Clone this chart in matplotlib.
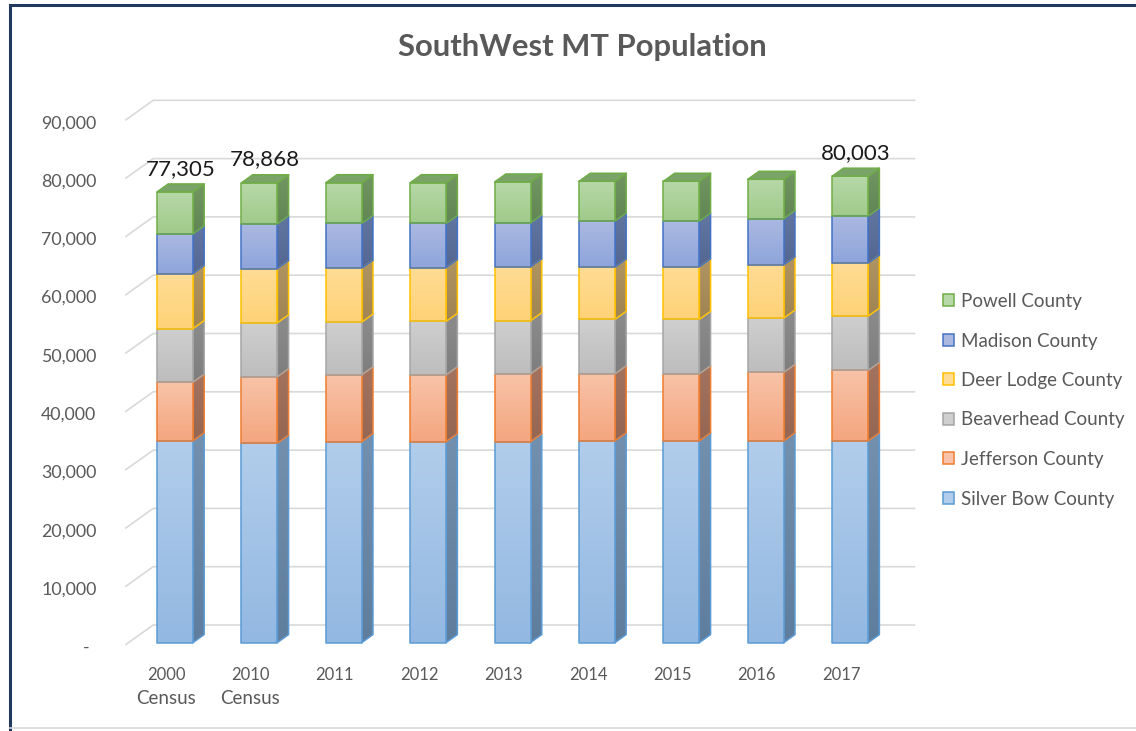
"""
SouthWest MT population - Excel style 3D stacked columns, drawn with an
oblique projection on a plain 2D axes.
"""
import numpy as np
import matplotlib
matplotlib.use("Agg")
import matplotlib.pyplot as plt
from matplotlib.patches import Polygon, Patch
from matplotlib.colors import LinearSegmentedColormap
from matplotlib.lines import Line2D

plt.rcParams["font.family"] = ["Lato", "DejaVu Sans"]

# ── Data ────────────────────────────────────────────────────────────────────────
YEARS   = ["2000", "2010", "2011", "2012", "2013", "2014", "2015", "2016", "2017"]
SUBLINE = ["Census", "Census", "", "", "", "", "", "", ""]

SILVER_BOW  = [34606, 34200, 34480, 34480, 34480, 34600, 34600, 34600, 34600]
JEFFERSON   = [10049, 11406, 11450, 11450, 11620, 11500, 11500, 11740, 12080]
BEAVERHEAD  = [9202, 9246, 9050, 9170, 9120, 9340, 9340, 9320, 9320]
DEER_LODGE  = [9417, 9298, 9220, 9220, 9220, 8950, 9000, 9120, 9060]
MADISON     = [6851, 7691, 7690, 7570, 7570, 7910, 7860, 7960, 8090]
POWELL      = [7180, 7027, 7000, 7000, 7000, 6830, 6830, 6730, 6853]

SERIES_NAMES = ["Silver Bow County", "Jefferson County", "Beaverhead County",
                "Deer Lodge County", "Madison County", "Powell County"]
SERIES = [SILVER_BOW, JEFFERSON, BEAVERHEAD, DEER_LODGE, MADISON, POWELL]
LABELED = [0, 1, 8]          # columns that carry a total label
Y_TICKS = list(range(0, 90001, 10000))

# ── Style ───────────────────────────────────────────────────────────────────────
EDGE     = ["#5B9BD5", "#ED7D31", "#A5A5A5", "#FFC000", "#4472C4", "#70AD47"]
FACE_TOP = ["#B1CDEB", "#F8C3A8", "#CFCFCF", "#FFDC95", "#ABB9E1", "#B7D8A8"]
FACE_BOT = ["#93B8E2", "#F4A67F", "#BDBDBD", "#FED277", "#8EA5DB", "#A0CA8A"]
SIDE_TOP = ["#7390AE", "#A3735F", "#8C8C8C", "#B09563", "#6276A2", "#729662"]
SIDE_BOT = ["#5F7D9C", "#956652", "#7E7E7E", "#A08553", "#536792", "#628653"]
TOP_FACE = ["#7C97B4", "#A87A66", "#939393", "#B39A6A", "#6A7DA8", "#7AA468"]
TEXT_CLR = "#595959"
GRID_CLR = "#D9D9D9"

W, H = 1136, 731
ORIGIN_X, ORIGIN_Y = 175.0, 642.6      # pixel of (column 0, value 0, depth 0)
CAT_PX, VAL_PX = 84.4, 0.00583         # pixels per column / per person
DXU = 28 / CAT_PX                      # depth vector in data units
DYU = 20 / VAL_PX
HALF, DEPTH = 0.213, 0.4
FLOOR_FRONT, BACK = -0.12, 0.88
WALL_L, WALL_R = -0.55, 8.48


def proj(x, v, d):
    return x + d * DXU, v + d * DYU


def grad_face(ax, verts, c_top, c_bot, edge, z):
    poly = Polygon(verts, closed=True, facecolor="none", edgecolor=edge,
                   lw=1.1, joinstyle="round", zorder=z + 0.1)
    ax.add_patch(poly)
    xs, ys = zip(*verts)
    cmap = LinearSegmentedColormap.from_list("g", [c_bot, c_top])
    im = ax.imshow(np.linspace(0, 1, 64)[:, None], cmap=cmap, origin="lower",
                   extent=(min(xs), max(xs), min(ys), max(ys)),
                   aspect="auto", interpolation="bilinear", zorder=z)
    im.set_clip_path(poly)


fig = plt.figure(figsize=(W / 100, H / 100), dpi=100, facecolor="white")
ax = fig.add_axes([0, 0, 1, 1])
ax.axis("off")

# walls: gridlines on the left wall and back wall
for v in Y_TICKS:
    pts = [proj(WALL_L, v, FLOOR_FRONT), proj(WALL_L, v, BACK), proj(WALL_R, v, BACK)]
    ax.plot(*zip(*pts), color=GRID_CLR, lw=1.2, zorder=1, solid_capstyle="butt")
    lx, ly = proj(-0.89, v, FLOOR_FRONT)
    ax.text(lx - (0.08 if v == 0 else 0), ly - 500, f"{v:,}" if v else "-",
            ha="right", va="center", fontsize=12.8, color=TEXT_CLR)

# columns
for i in range(len(YEARS)):
    base = 0
    z = 3 + i
    for s, vals in enumerate(SERIES):
        top = base + vals[i]
        front = [proj(i - HALF, base, 0), proj(i + HALF, base, 0),
                 proj(i + HALF, top, 0), proj(i - HALF, top, 0)]
        side = [proj(i + HALF, base, 0), proj(i + HALF, base, DEPTH),
                proj(i + HALF, top, DEPTH), proj(i + HALF, top, 0)]
        grad_face(ax, side, SIDE_TOP[s], SIDE_BOT[s], EDGE[s], z + s * 0.01)
        grad_face(ax, front, FACE_TOP[s], FACE_BOT[s], EDGE[s], z + s * 0.01 + 0.2)
        base = top
    s = len(SERIES) - 1
    cap = [proj(i - HALF, base, 0), proj(i + HALF, base, 0),
           proj(i + HALF, base, DEPTH), proj(i - HALF, base, DEPTH)]
    grad_face(ax, cap, TOP_FACE[s], TOP_FACE[s], EDGE[s], z + 0.5)

    if i in LABELED:
        lx = proj(i, base, DEPTH / 2)[0]
        ly = proj(i, base, DEPTH)[1]
        ax.annotate(f"{base:,}", xy=(lx, ly), xytext=(0, 11), textcoords="offset points",
                    ha="center", va="center", fontsize=16, color="#1a1a1a")

    # category labels
    ax.text(i - 0.107, -5615, YEARS[i], ha="center", va="center",
            fontsize=12, color=TEXT_CLR)
    if SUBLINE[i]:
        ax.text(i - 0.107, -9600, SUBLINE[i], ha="center", va="center",
                fontsize=13.5, color=TEXT_CLR)

ax.set_xlim(-ORIGIN_X / CAT_PX, (W - ORIGIN_X) / CAT_PX)
ax.set_ylim(-(H - ORIGIN_Y) / VAL_PX, ORIGIN_Y / VAL_PX)

fig.text(582 / W, 1 - 47 / H, "SouthWest MT Population", ha="center", va="center",
         fontsize=22.3, fontweight="bold", color=TEXT_CLR)

handles = [Patch(facecolor=FACE_TOP[s], edgecolor=EDGE[s], lw=1.1)
           for s in range(len(SERIES))][::-1]
fig.legend(handles, SERIES_NAMES[::-1], loc="upper left",
           bbox_to_anchor=(943 / W, 1 - 293 / H), frameon=False, fontsize=13.5,
           labelcolor=TEXT_CLR, handlelength=0.6, handleheight=0.6,
           handletextpad=0.35, labelspacing=1.2, borderpad=0, borderaxespad=0)

# chart frame
fig.add_artist(Line2D([10 / W, 10 / W], [0, 1 - 5 / H], transform=fig.transFigure,
                      color="#22395E", lw=2.2))
fig.add_artist(Line2D([10 / W, 1], [1 - 5 / H, 1 - 5 / H], transform=fig.transFigure,
                      color="#22395E", lw=2.2))
fig.add_artist(Line2D([10 / W, 1], [1 - 728 / H, 1 - 728 / H], transform=fig.transFigure,
                      color=GRID_CLR, lw=1.2))

fig.savefig("out.png", dpi=100, facecolor="white")
